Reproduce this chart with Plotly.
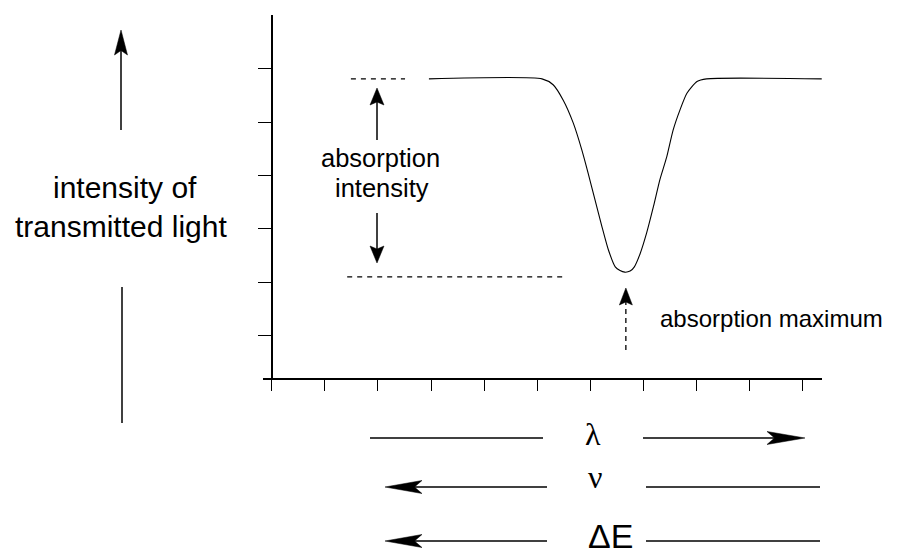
"""Absorption band sketch: transmitted light vs wavelength."""

import plotly.graph_objects as go

# the page body has an 8px margin, so the figure is 8px smaller each way
PAGE_PAD = 8
W, H = 907 - PAGE_PAD, 556 - PAGE_PAD

# axis ticks (arbitrary units, one tick = one unit)
x_ticks = list(range(11))
y_ticks = [1, 2, 3, 4, 5, 6]

# transmitted-light curve
curve_x = [2.96, 5.09, 5.30, 5.49, 5.68, 5.84, 5.96, 6.09, 6.22, 6.34, 6.47, 6.56, 6.65,
           6.75, 6.83, 6.94, 7.06, 7.19, 7.31, 7.44, 7.56, 7.69, 7.82, 8.01, 8.19, 10.36]
curve_y = [5.81, 5.81, 5.70, 5.41, 4.98, 4.48, 4.04, 3.54, 3.04, 2.61, 2.29, 2.22, 2.19,
           2.21, 2.29, 2.54, 2.92, 3.42, 3.92, 4.35, 4.85, 5.23, 5.54, 5.76, 5.81, 5.81]

# dashed guide lines marking the absorption intensity
upper_guide_x = [1.49, 2.51]
upper_guide_y = [5.81, 5.81]
lower_guide_x = [1.42, 5.47]
lower_guide_y = [2.10, 2.10]
peak_x = 6.67

# plot box in window pixels
BOX_L, BOX_R, BOX_T, BOX_B = 263, 822, 15, 378
X_RANGE = [-0.166, 10.365]
Y_RANGE = [0.208, 7.006]
FONT = "Liberation Sans, Arial, sans-serif"
SERIF = "Liberation Serif, Times New Roman, serif"


def fx(px):
    return (px - PAGE_PAD) / W


def fy(py):
    return 1 - (py - PAGE_PAD) / H


def data_px_x(v):
    return BOX_L + (v - X_RANGE[0]) / (X_RANGE[1] - X_RANGE[0]) * (BOX_R - BOX_L)


def line(x0, y0, x1, y1, width=1.5, dash="solid"):
    return dict(type="line", xref="paper", yref="paper",
                x0=fx(x0), y0=fy(y0), x1=fx(x1), y1=fy(y1),
                line=dict(color="black", width=width, dash=dash))


def head(tx, ty, dx, dy, length, half, notch):
    """Stealth-style arrow head, tip at (tx, ty) pointing along (dx, dy)."""
    px_, py_ = -dy, dx
    bx, by = tx - length * dx, ty - length * dy
    nx, ny = tx - (length - notch) * dx, ty - (length - notch) * dy
    pts = [(tx, ty), (bx + half * px_, by + half * py_), (nx, ny),
           (bx - half * px_, by - half * py_)]
    path = "M" + " L".join(f"{fx(a):.5f},{fy(b):.5f}" for a, b in pts) + " Z"
    return dict(type="path", xref="paper", yref="paper", path=path,
                fillcolor="black", line=dict(color="black", width=0.5))


def label(text, x, y, size, family=FONT, anchor="center", vanchor="middle"):
    return dict(text=text, xref="paper", yref="paper", x=fx(x), y=fy(y),
                xanchor=anchor, yanchor=vanchor, showarrow=False, borderpad=0,
                font=dict(family=family, size=size, color="black"))


fig = go.Figure()
fig.add_trace(go.Scatter(x=curve_x, y=curve_y, mode="lines",
                         line=dict(color="black", width=1.1, shape="spline", smoothing=0.6)))
for gx, gy in [(upper_guide_x, upper_guide_y), (lower_guide_x, lower_guide_y)]:
    fig.add_trace(go.Scatter(x=gx, y=gy, mode="lines",
                             line=dict(color="black", width=1.3, dash="5px,5px")))

peak_px = data_px_x(peak_x)
shapes = [
    # y-axis label arrow
    line(121, 130, 121, 50), head(121, 30, 0, -1, 25, 6.5, 4.5),
    line(122, 287, 122, 423),
    # absorption intensity
    line(377, 140, 377, 100), head(377, 88, 0, -1, 17, 7, 3),
    line(377, 213, 377, 250), head(377, 263, 0, 1, 17, 7, 3),
    # absorption maximum
    line(peak_px, 350, peak_px, 302, width=1.3, dash="5px,4px"),
    head(peak_px, 288, 0, -1, 17, 6.5, 3),
    # lambda
    line(370, 438, 543, 438, 1.7), line(643, 438, 780, 438, 1.7),
    head(805, 438, 1, 0, 38, 6.5, 7.5),
    # nu
    line(410, 487, 547, 487, 1.7), head(385, 487, -1, 0, 37, 6.5, 7.5),
    line(646, 487, 820, 487, 1.7),
    # delta E
    line(410, 541, 547, 541, 1.7), head(385, 541, -1, 0, 37, 6.5, 7.5),
    line(646, 541, 820, 541, 1.7),
]

annotations = [
    label("intensity of", 125, 187.6, 30),
    label("transmitted light", 121, 226.6, 30),
    label("absorption", 380, 157.9, 25.5),
    label("intensity", 381.7, 187.9, 25.5),
    label("absorption maximum", 659, 318.4, 24, anchor="left"),
    label("λ", 593, 434.2, 32, family=SERIF),
    label("ν", 595, 477.2, 32, family=SERIF),
    label("ΔE", 610, 555.5, 34, vanchor="bottom"),
]

axis_style = dict(showticklabels=False, ticks="outside", tickcolor="black", tickwidth=1.3,
                  showline=True, linecolor="black", linewidth=2,
                  showgrid=False, zeroline=False, fixedrange=True)

fig.update_layout(
    width=W, height=H, showlegend=False,
    margin=dict(l=0, r=0, t=0, b=0, pad=0),
    paper_bgcolor="white", plot_bgcolor="white",
    xaxis=dict(domain=[fx(BOX_L), fx(BOX_R)], range=X_RANGE, tickvals=x_ticks,
               ticklen=11, anchor="y", **axis_style),
    yaxis=dict(domain=[fy(BOX_B), fy(BOX_T)], range=Y_RANGE, tickvals=y_ticks,
               ticklen=13, anchor="free", position=fx(271.8), **axis_style),
    shapes=shapes,
    annotations=annotations,
)

fig.write_html("out.html")
